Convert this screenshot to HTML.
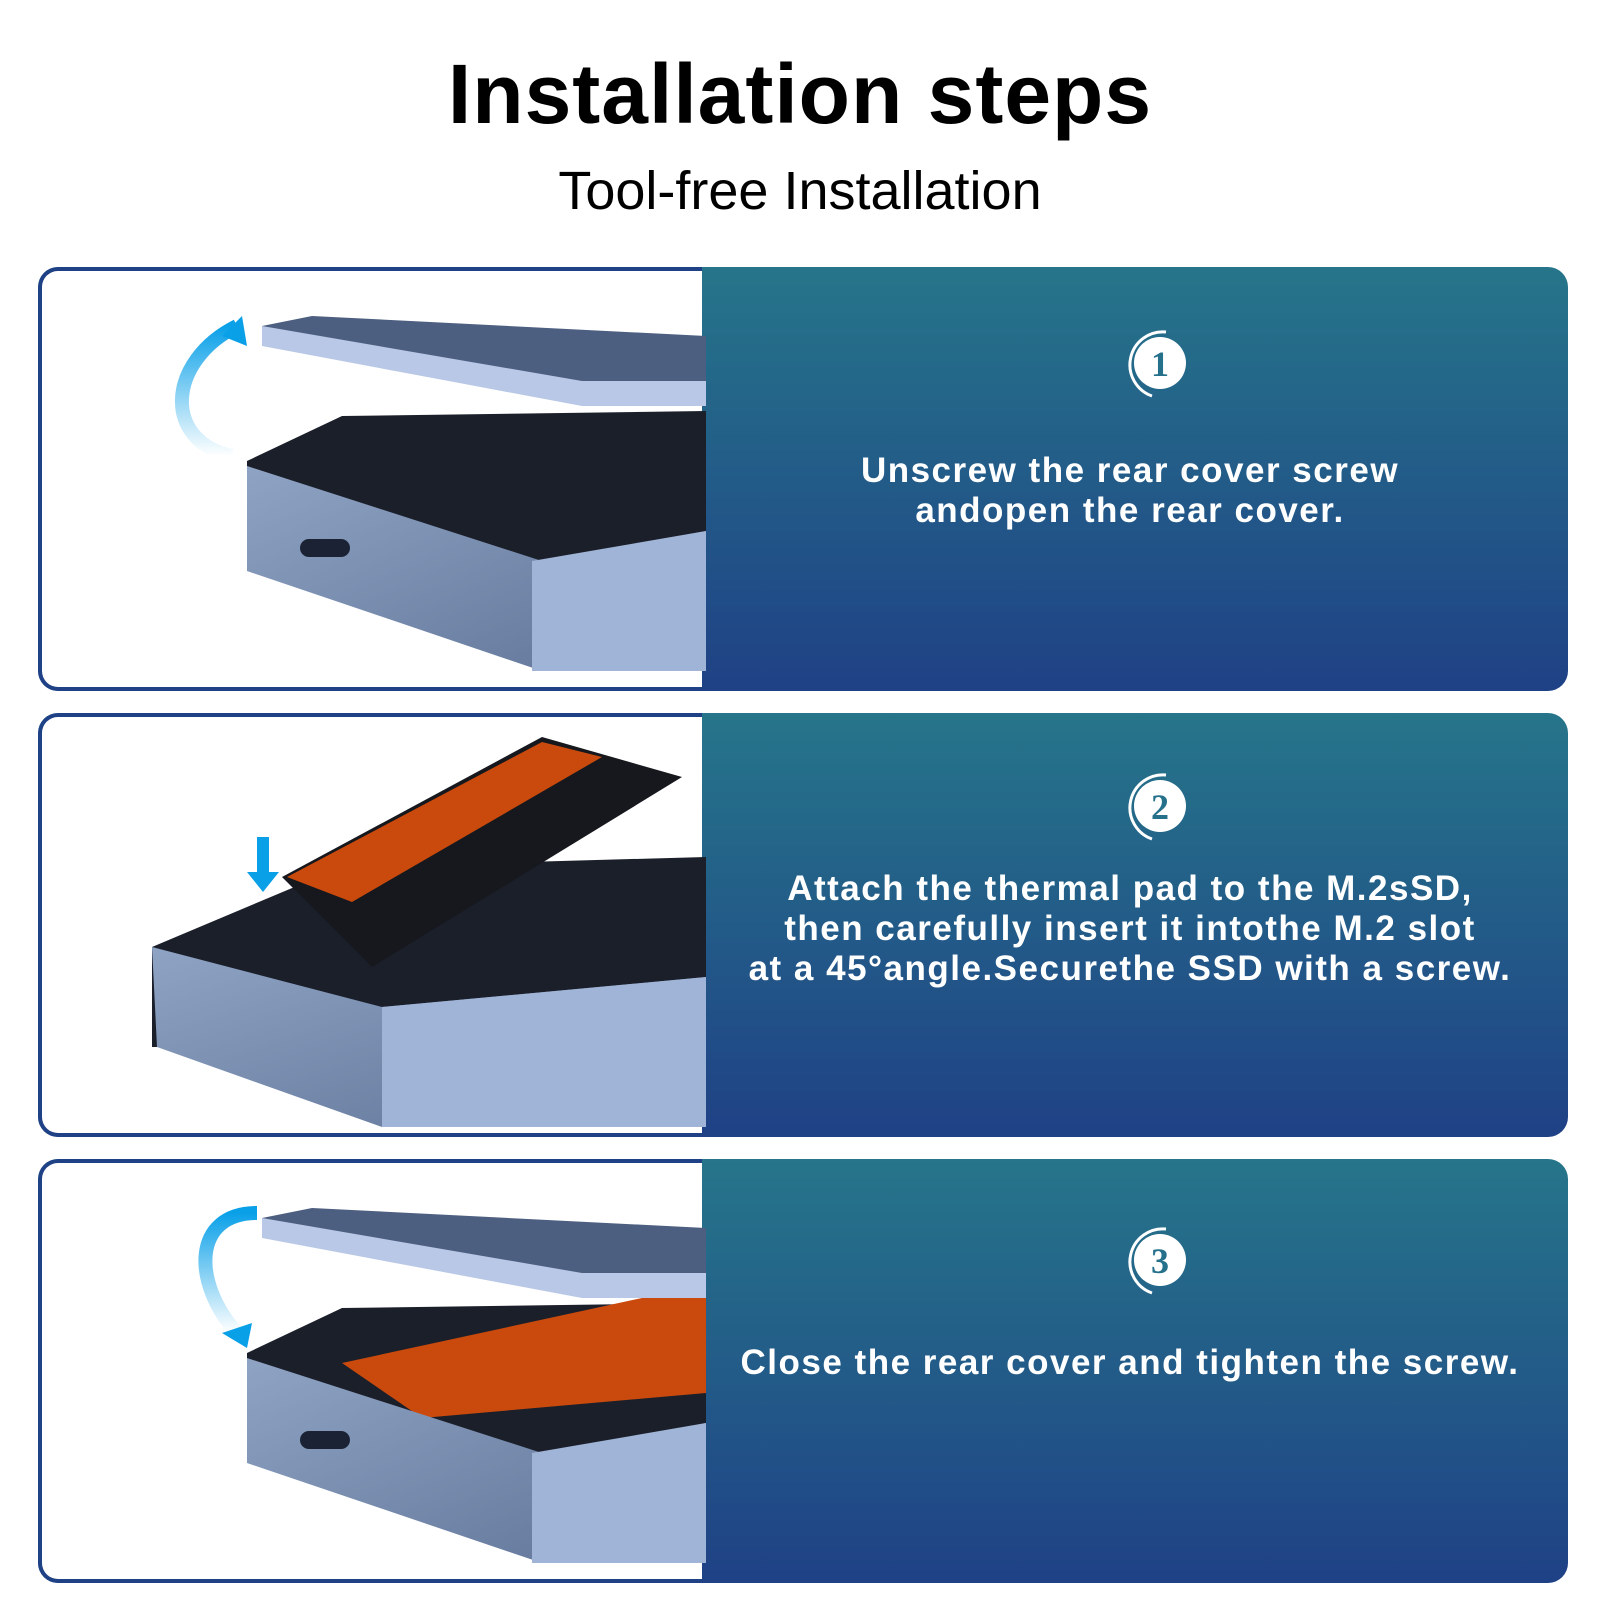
<!DOCTYPE html>
<html><head><meta charset="utf-8"><style>
body{margin:0;width:1600px;height:1600px;background:#fff;position:relative;overflow:hidden;font-family:"Liberation Sans",sans-serif}
.t{position:absolute;left:0;width:1600px;text-align:center;color:#000}
.row{position:absolute;left:38px;width:1530px;height:424px;border-radius:20px;overflow:hidden;background:linear-gradient(#26758a,#1f4186)}
.left{position:absolute;left:0;top:0;width:664px;height:100%;background:#fff;border:4px solid #1f4186;border-right:none;border-radius:20px 0 0 20px;box-sizing:border-box}
.right{position:absolute;left:664px;top:0;right:0;height:100%;color:#fff;text-align:center}
.txt{position:absolute;left:-10px;right:0;font-weight:bold;font-size:35px;letter-spacing:1.5px;line-height:40px}
.num{position:absolute;width:70px;height:70px}
svg{position:absolute;left:0;top:0}
</style></head><body>
<div class="t" style="top:46px;font-size:84px;font-weight:bold;letter-spacing:1px">Installation steps</div>
<div class="t" style="top:160px;font-size:54px;letter-spacing:0px">Tool-free Installation</div>

<div class="row" style="top:267px">
<div class="left"><svg width="664" height="424">
<defs><linearGradient id="m" x1="0" y1="0" x2="1" y2="1"><stop offset="0" stop-color="#8fa3c4"/><stop offset="1" stop-color="#5f7397"/></linearGradient>
<linearGradient id="a" x1="0" y1="1" x2="0" y2="0"><stop offset="0" stop-color="#fff"/><stop offset="1" stop-color="#0aa0e8"/></linearGradient></defs>
<polygon points="220,55 270,45 664,65 664,130 540,130 220,70" fill="#4d5f80"/>
<polygon points="220,55 540,110 664,110 664,135 540,135 220,75" fill="#b8c8e6"/>
<polygon points="205,190 300,145 664,140 664,300 205,300" fill="#1b1f2a"/>
<polygon points="205,195 500,290 664,260 664,400 500,400 205,300" fill="url(#m)"/>
<polygon points="490,290 664,260 664,400 490,400" fill="#9fb4d6"/>
<rect x="258" y="268" width="50" height="18" rx="9" fill="#1a2233"/>
<path d="M190 185 C120 170 125 90 195 55" stroke="url(#a)" stroke-width="14" fill="none"/>
<polygon points="200,45 180,65 205,75" fill="#0aa0e8"/>
</svg></div>
<div class="right">
<svg class="num" style="left:420px;top:63px"><circle cx="38" cy="33" r="26" fill="#fff"/><path d="M44 2 A33 33 0 0 0 30 66" stroke="#fff" stroke-width="3" fill="none"/><text x="38" y="46" text-anchor="middle" font-family="Liberation Serif" font-weight="bold" font-size="36" fill="#25708a">1</text></svg>
<div class="txt" style="top:184px">Unscrew the rear cover screw<br>andopen the rear cover.</div>
</div></div>

<div class="row" style="top:713px">
<div class="left"><svg width="664" height="424">
<polygon points="110,230 300,150 664,140 664,330 110,330" fill="#1b1f2a"/>
<polygon points="110,230 340,290 664,260 664,410 340,410 115,330" fill="url(#m)"/>
<polygon points="340,290 664,260 664,410 340,410" fill="#9fb4d6"/>
<polygon points="240,160 500,20 640,60 330,250" fill="#16181e"/>
<polygon points="245,160 500,25 560,40 310,185" fill="#c94a0c"/>
<rect x="215" y="120" width="12" height="40" fill="#0aa0e8"/><polygon points="205,155 237,155 221,175" fill="#0aa0e8"/>
</svg></div>
<div class="right">
<svg class="num" style="left:420px;top:60px"><circle cx="38" cy="33" r="26" fill="#fff"/><path d="M44 2 A33 33 0 0 0 30 66" stroke="#fff" stroke-width="3" fill="none"/><text x="38" y="46" text-anchor="middle" font-family="Liberation Serif" font-weight="bold" font-size="36" fill="#25708a">2</text></svg>
<div class="txt" style="top:156px">Attach the thermal pad to the M.2sSD,<br>then carefully insert it intothe M.2 slot<br>at a 45°angle.Securethe SSD with a screw.</div>
</div></div>

<div class="row" style="top:1159px">
<div class="left"><svg width="664" height="424">
<polygon points="220,55 270,45 664,65 664,130 540,130 220,70" fill="#4d5f80"/>
<polygon points="220,55 540,110 664,110 664,135 540,135 220,75" fill="#b8c8e6"/>
<polygon points="205,190 300,145 664,140 664,300 205,300" fill="#1b1f2a"/>
<polygon points="300,200 600,135 664,135 664,230 380,255" fill="#c94a0c"/>
<polygon points="205,195 500,290 664,260 664,400 500,400 205,300" fill="url(#m)"/>
<polygon points="490,290 664,260 664,400 490,400" fill="#9fb4d6"/>
<rect x="258" y="268" width="50" height="18" rx="9" fill="#1a2233"/>
<path d="M215 50 C150 50 150 120 195 170" stroke="url(#a)" stroke-width="14" fill="none"/>
<polygon points="180,170 210,160 205,185" fill="#0aa0e8"/>
</svg></div>
<div class="right">
<svg class="num" style="left:420px;top:68px"><circle cx="38" cy="33" r="26" fill="#fff"/><path d="M44 2 A33 33 0 0 0 30 66" stroke="#fff" stroke-width="3" fill="none"/><text x="38" y="46" text-anchor="middle" font-family="Liberation Serif" font-weight="bold" font-size="36" fill="#25708a">3</text></svg>
<div class="txt" style="top:184px">Close the rear cover and tighten the screw.</div>
</div></div>
</body></html>
